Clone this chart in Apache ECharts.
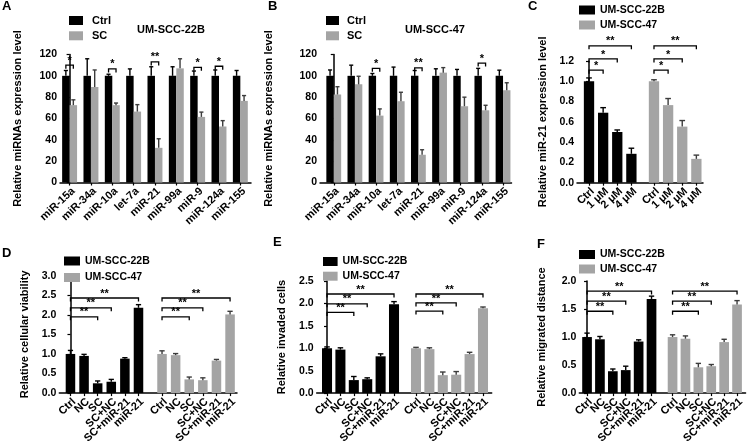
<!DOCTYPE html>
<html>
<head>
<meta charset="utf-8">
<script src="https://cdn.jsdelivr.net/npm/echarts@6/dist/echarts.min.js"></script>
<style>
html, body { margin: 0; padding: 0; background: #fff; }
#chart { width: 755px; height: 446px; }
</style>
</head>
<body>
<div id="chart"></div>
<script>
// ---------- data ----------
// A / B : miRNA expression after SC treatment
var mirNames = ['miR-15a', 'miR-34a', 'miR-10a', 'let-7a', 'miR-21', 'miR-99a', 'miR-9', 'miR-124a', 'miR-155'];
var aCtrl   = [100, 100, 100, 100, 100, 100, 100, 100, 100];
var aCtrlSd = [5, 16, 1.5, 6.5, 8.5, 8.5, 4.5, 5.5, 5];
var aSc     = [72.5, 89.5, 72.5, 66.5, 32.5, 107, 61.5, 52.5, 76.5];
var aScSd   = [5, 16, 2, 6.5, 8.5, 9, 4.5, 5.5, 5];
var aStars  = [[0, 110, '*'], [2, 106.5, '*'], [4, 113, '**'], [6, 108, '*'], [7, 109, '*']];

var bCtrl   = [100, 100, 100, 100, 100, 100, 100, 100, 100];
var bCtrlSd = [5.5, 10, 2.2, 8.2, 5, 6.6, 6, 7, 5.3];
var bSc     = [82.5, 92, 62.7, 76.2, 26, 103, 71.5, 67.7, 86.5];
var bScSd   = [7.3, 7.6, 6.3, 8.4, 4.7, 4.7, 8.5, 4.7, 7];
var bStars  = [[2, 107, '*'], [4, 107.5, '**'], [7, 112, '*']];

// C : miR-21 level vs SC dose
var doseNames = ['Ctrl', '1 μM', '2 μM', '4 μM'];
var c22b    = [1.0, 0.69, 0.50, 0.285];
var c22bSd  = [0.033, 0.05, 0.02, 0.055];
var c47     = [1.0, 0.765, 0.553, 0.235];
var c47Sd   = [0.015, 0.065, 0.06, 0.037];
var cStars  = [[0, 1, 1.11, '*'], [0, 2, 1.22, '*'], [0, 3, 1.35, '**']];

// D / E / F : viability, invasion, migration
var treatNames = ['Ctrl', 'NC', 'SC', 'SC+NC', 'SC+miR-21', 'miR-21'];
var d22b    = [1.0, 0.95, 0.25, 0.29, 0.88, 2.18];
var d22bSd  = [0.09, 0.04, 0.06, 0.06, 0.025, 0.08];
var d47     = [1.0, 0.97, 0.35, 0.33, 0.83, 2.01];
var d47Sd   = [0.08, 0.04, 0.06, 0.06, 0.03, 0.08];
var dStars22b = [[0, 2, 1.95, '**'], [0, 3, 2.18, '**'], [0, 5, 2.43, '**']];
var dStars47  = [[0, 2, 1.95, '**'], [0, 3, 2.18, '**'], [0, 5, 2.43, '**']];

var e22b    = [1.0, 0.97, 0.29, 0.31, 0.82, 1.98];
var e22bSd  = [0.03, 0.04, 0.08, 0.03, 0.055, 0.06];
var e47     = [1.0, 0.98, 0.40, 0.41, 0.87, 1.89];
var e47Sd   = [0.02, 0.03, 0.07, 0.07, 0.04, 0.03];
var eStars22b = [[0, 2, 1.80, '**'], [0, 3, 1.99, '**'], [0, 5, 2.21, '**']];
var eStars47  = [[0, 2, 1.83, '**'], [0, 3, 2.01, '**'], [0, 5, 2.21, '**']];

var f22b    = [1.0, 0.96, 0.39, 0.41, 0.92, 1.68];
var f22bSd  = [0.07, 0.05, 0.04, 0.07, 0.03, 0.05];
var f47     = [1.0, 0.97, 0.46, 0.48, 0.91, 1.58];
var f47Sd   = [0.04, 0.05, 0.07, 0.03, 0.05, 0.07];
var fStars22b = [[0, 2, 1.46, '**'], [0, 3, 1.64, '**'], [0, 5, 1.82, '**']];
var fStars47  = [[0, 2, 1.46, '**'], [0, 3, 1.64, '**'], [0, 5, 1.82, '**']];

// ---------- style ----------
var FONT = '"Liberation Sans", Arial, sans-serif';
var BLACK = '#000000';
var GREY = '#a4a4a4';
var GREY_ERR = '#3c3c3c';

var grids = [], xAxes = [], yAxes = [], series = [];

function addAxes(p, ticks, labels) {
    var gi = grids.length;
    grids.push({ left: p.left, top: p.top, width: p.width, height: p.height });
    // blank labels at both ends take the min/max overlap check, so no real label is culled
    var labelAt = [p.xMin + 0.02].concat(ticks, [p.xMax - 0.02]);
    var labelText = [' '].concat(labels, [' ']);
    xAxes.push({
        gridIndex: gi, type: 'value', min: p.xMin, max: p.xMax,
        splitLine: { show: false },
        axisLine: { lineStyle: { color: '#000', width: 1.5 } },
        axisTick: { customValues: ticks, length: 3, lineStyle: { color: '#000', width: 1.2 } },
        axisLabel: {
            customValues: labelAt, rotate: p.rot, margin: 3, hideOverlap: false,
            align: 'right', verticalAlign: 'top',
            fontFamily: FONT, fontWeight: 'bold', fontSize: p.xfs, color: '#000',
            formatter: function (v) {
                var best = 0;
                for (var i = 0; i < labelAt.length; i++) {
                    if (Math.abs(labelAt[i] - v) < Math.abs(labelAt[best] - v)) best = i;
                }
                return labelText[best];
            }
        }
    });
    yAxes.push({
        gridIndex: gi, type: 'value', min: 0, max: p.yMax, interval: p.yInt,
        name: p.yName, nameLocation: 'middle', nameGap: p.nameGap,
        nameTextStyle: { fontFamily: FONT, fontWeight: 'bold', fontSize: 11, color: '#000' },
        splitLine: { show: false },
        axisLine: { show: true, lineStyle: { color: '#000', width: 1.5 } },
        axisTick: { show: true, length: 3, lineStyle: { color: '#000', width: 1.2 } },
        axisLabel: {
            margin: 3, showMinLabel: true, showMaxLabel: true,
            fontFamily: FONT, fontWeight: 'bold', fontSize: p.yfs, color: '#000',
            formatter: function (v) { return v.toFixed(p.dec); }
        }
    });
    return gi;
}

// bars with upper error bar, drawn through the axis scales
function barSeries(gi, name, color, errColor, xs, vals, sds, bw) {
    return {
        type: 'custom', name: name, xAxisIndex: gi, yAxisIndex: gi,
        itemStyle: { color: color },
        data: xs.map(function (x, i) { return [x, vals[i], vals[i] + sds[i]]; }),
        renderItem: function (params, api) {
            var x = api.value(0);
            var p0 = api.coord([x, 0]);
            var p1 = api.coord([x, api.value(1)]);
            var p2 = api.coord([x, api.value(2)]);
            var w = api.size([bw, 0])[0];
            var cap = w * 0.55;
            return {
                type: 'group', children: [
                    { type: 'rect', shape: { x: p0[0] - w / 2, y: p1[1], width: w, height: p0[1] - p1[1] }, style: { fill: color } },
                    { type: 'line', shape: { x1: p0[0], y1: p1[1], x2: p0[0], y2: p2[1] }, style: { stroke: errColor, lineWidth: 1.4 } },
                    { type: 'line', shape: { x1: p0[0] - cap / 2, y1: p2[1], x2: p0[0] + cap / 2, y2: p2[1] }, style: { stroke: errColor, lineWidth: 1.4 } }
                ]
            };
        }
    };
}

// significance brackets: list of [x1, x2, y, text]
function bracketSeries(gi, list) {
    return {
        type: 'custom', xAxisIndex: gi, yAxisIndex: gi, silent: true,
        data: list.map(function (b) { return [b[0], b[1], b[2]]; }),
        renderItem: function (params, api) {
            var a = api.coord([api.value(0), api.value(2)]);
            var b = api.coord([api.value(1), api.value(2)]);
            var leg = 3.5;
            return {
                type: 'group', children: [
                    { type: 'polyline', shape: { points: [[a[0], a[1] + leg], [a[0], a[1]], [b[0], b[1]], [b[0], b[1] + leg]] },
                      style: { stroke: '#000', lineWidth: 1.3, fill: null } },
                    { type: 'text', x: (a[0] + b[0]) / 2, y: a[1] + 1,
                      style: { text: list[params.dataIndex][3], align: 'center', verticalAlign: 'bottom',
                               font: 'bold 11px ' + FONT, fill: '#000' } }
                ]
            };
        }
    };
}

// ---------- A / B ----------
function pairPanel(p, ctrl, ctrlSd, sc, scSd, stars) {
    var ticks = mirNames.map(function (n, i) { return i; });
    var gi = addAxes(p, ticks, mirNames);
    var h = p.bw / 2;
    series.push(barSeries(gi, 'Ctrl', BLACK, BLACK, ticks.map(function (i) { return i - h; }), ctrl, ctrlSd, p.bw));
    series.push(barSeries(gi, 'SC', GREY, GREY_ERR, ticks.map(function (i) { return i + h; }), sc, scSd, p.bw));
    series.push(bracketSeries(gi, stars.map(function (s) { return [s[0] - h, s[0] + h, s[1], s[2]]; })));
}

pairPanel({ left: 60, top: 54.5, width: 191, height: 128, xMin: -0.45, xMax: 8.5, bw: 0.35,
            yMax: 120, yInt: 20, dec: 0, yName: 'Relative miRNAs expression level', nameGap: 37,
            rot: 43, xfs: 11, yfs: 10.5 }, aCtrl, aCtrlSd, aSc, aScSd, aStars);
pairPanel({ left: 320, top: 54.5, width: 191.5, height: 128, xMin: -0.65, xMax: 8.4, bw: 0.35,
            yMax: 120, yInt: 20, dec: 0, yName: 'Relative miRNAs expression level', nameGap: 46,
            rot: 43, xfs: 11, yfs: 10.5 }, bCtrl, bCtrlSd, bSc, bScSd, bStars);

// ---------- C / D / E / F : two cell lines side by side ----------
function groupPanel(p, names, v1, s1, v2, s2, st1, st2) {
    var n = names.length;
    var xs1 = names.map(function (_, i) { return i; });
    var xs2 = names.map(function (_, i) { return n - 1 + p.gap + i; });
    var gi = addAxes(p, xs1.concat(xs2), names.concat(names));
    series.push(barSeries(gi, 'UM-SCC-22B', BLACK, BLACK, xs1, v1, s1, p.bw));
    series.push(barSeries(gi, 'UM-SCC-47', GREY, GREY_ERR, xs2, v2, s2, p.bw));
    series.push(bracketSeries(gi, st1.map(function (s) { return [xs1[s[0]], xs1[s[1]], s[2], s[3]]; })
        .concat(st2.map(function (s) { return [xs2[s[0]], xs2[s[1]], s[2], s[3]]; }))));
}

groupPanel({ left: 577, top: 61, width: 126, height: 121.7, xMin: -0.85, xMax: 8.07, bw: 0.73, gap: 1.6,
             yMax: 1.2, yInt: 0.2, dec: 1, yName: 'Relative miR-21 expression level', nameGap: 29,
             rot: 43, xfs: 11, yfs: 10.5 }, doseNames, c22b, c22bSd, c47, c47Sd, cStars, cStars);
groupPanel({ left: 59.3, top: 275.7, width: 177.7, height: 118.3, xMin: -0.82, xMax: 12.24, bw: 0.7, gap: 1.73,
             yMax: 3, yInt: 0.5, dec: 1, yName: 'Relative cellular viability', nameGap: 29,
             rot: 43, xfs: 11, yfs: 10.5 }, treatNames, d22b, d22bSd, d47, d47Sd, dStars22b, dStars47);
groupPanel({ left: 316.7, top: 281, width: 175, height: 116, xMin: -0.77, xMax: 12.29, bw: 0.75, gap: 1.64,
             yMax: 2.5, yInt: 0.5, dec: 1, yName: 'Relative invaded cells', nameGap: 29.5,
             rot: 43, xfs: 11, yfs: 10.5 }, treatNames, e22b, e22bSd, e47, e47Sd, eStars22b, eStars47);
groupPanel({ left: 579.3, top: 281, width: 172.4, height: 115.3, xMin: -0.6, xMax: 12.29, bw: 0.75, gap: 1.63,
             yMax: 2, yInt: 0.5, dec: 1, yName: 'Relative migrated distance', nameGap: 32,
             rot: 43, xfs: 11, yfs: 10.5 }, treatNames, f22b, f22bSd, f47, f47Sd, fStars22b, fStars47);

// ---------- legends and titles ----------
function legend(names, left, top, pitch, iw, fs, pad) {
    return {
        data: names, orient: 'vertical', left: left, top: top, padding: 0,
        icon: 'rect', itemWidth: iw, itemHeight: 9, itemGap: pitch - 13,
        selectedMode: false,
        textStyle: { fontFamily: FONT, fontWeight: 'bold', fontSize: fs, color: '#000', lineHeight: 13, padding: [0, 0, 0, pad] }
    };
}
var lines2 = ['UM-SCC-22B', 'UM-SCC-47'];
var legends = [
    legend(['Ctrl', 'SC'], 69, 14, 15.3, 14, 11, 4),
    legend(['Ctrl', 'SC'], 326, 14, 15.3, 13, 11, 3),
    legend(lines2, 579, 3.5, 15, 16, 10.5, 0),
    legend(lines2, 64, 254.5, 16.5, 16, 10.5, 0),
    legend(lines2, 323, 255, 14.7, 14.6, 10.5, 0),
    legend(lines2, 579, 248, 14.5, 16, 10.5, 0)
];

function title(text, left, top, fs) {
    return { text: text, left: left, top: top, padding: 0,
             textStyle: { fontFamily: FONT, fontWeight: 'bold', fontSize: fs, color: '#000' } };
}
var titles = [
    title('A', 2, 0, 13), title('B', 268, 0, 13), title('C', 528, 0, 13),
    title('D', 2, 247, 13), title('E', 273, 236, 13), title('F', 537, 238, 13),
    title('UM-SCC-22B', 137, 24, 11), title('UM-SCC-47', 405, 24, 11)
];

var chart = echarts.init(document.getElementById('chart'), null, { renderer: 'canvas' });
chart.setOption({
    animation: false,
    backgroundColor: '#fff',
    title: titles,
    legend: legends,
    grid: grids,
    xAxis: xAxes,
    yAxis: yAxes,
    series: series
});
</script>
</body>
</html>
